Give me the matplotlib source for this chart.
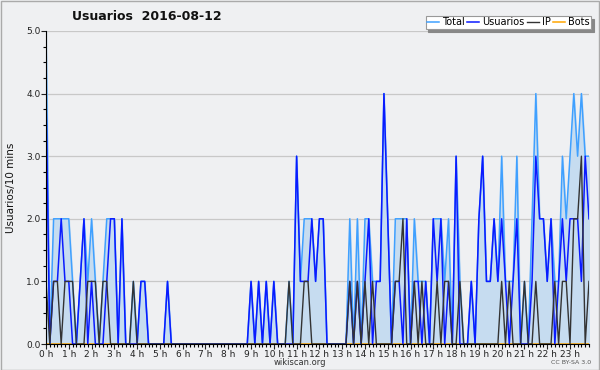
import matplotlib
matplotlib.use("Agg")
import matplotlib.pyplot as plt
from matplotlib.ticker import MultipleLocator, FixedLocator
import numpy as np

# 10-minute slots over the day (144 values)
usuarios = [4,0,1,1,2,1,1,0,0,1, 2,0,1,0,0,0,1,2,2,0, 2,0,0,0,0,1,1,0,0,0,
            0,0,1,0,0,0,0,0,0,0, 0,0,0,0,0,0,0,0,0,0, 0,0,0,0,1,0,1,0,1,0,
            1,0,0,0,0,0,3,1,1,1, 2,1,2,2,0,0,0,0,0,0, 1,0,1,0,1,2,0,1,1,4,
            2,0,1,1,0,2,0,1,1,0, 1,0,2,1,2,0,1,0,3,0, 0,0,1,0,2,3,1,1,2,1,
            2,1,0,1,2,0,0,0,1,3, 2,2,1,2,0,1,2,1,2,2, 2,1,3,2]
ip =       [1,0,1,1,0,1,1,1,0,0, 0,1,1,1,0,1,1,0,0,0, 0,0,0,1,0,0,0,0,0,0,
            0,0,0,0,0,0,0,0,0,0, 0,0,0,0,0,0,0,0,0,0, 0,0,0,0,0,0,0,0,0,0,
            0,0,0,0,1,0,0,0,1,1, 0,0,0,0,0,0,0,0,0,0, 1,0,1,0,1,0,1,0,0,0,
            0,0,1,1,2,0,0,1,0,1, 0,0,0,1,0,1,1,0,0,1, 0,0,0,0,0,0,0,0,0,0,
            1,0,1,0,0,0,1,0,0,1, 0,0,0,0,1,0,1,1,0,2, 2,3,0,1]
total =    [5,0,2,2,2,2,2,1,0,1, 2,1,2,1,0,1,2,2,2,0, 2,0,0,1,0,1,1,0,0,0,
            0,0,1,0,0,0,0,0,0,0, 0,0,0,0,0,0,0,0,0,0, 0,0,0,0,1,0,1,0,1,0,
            1,0,0,0,1,0,3,1,2,2, 2,1,2,2,0,0,0,0,0,0, 2,0,2,0,2,2,1,1,1,4,
            2,0,2,2,2,2,0,2,1,1, 1,0,2,2,2,1,2,0,3,1, 0,0,1,0,2,3,1,1,2,1,
            3,1,1,1,3,0,1,0,2,4, 2,2,1,2,1,1,3,2,3,4, 3,4,3,3]
bots = [0] * 144

hour_labels = [f"{h} h" for h in range(24)]
y_labels = ["0.0", "1.0", "2.0", "3.0", "4.0", "5.0"]

bg = "#eff0f2"
fig = plt.figure(figsize=(6.0, 3.7), dpi=100, facecolor=bg)
ax = fig.add_axes([46/600, 26/370, (589-46)/600, (344-31)/370])
ax.set_facecolor(bg)

x = np.arange(len(total)) / 6.0

ax.fill_between(x, total, 0, color="#c6dcf0", zorder=1)
ax.plot(x, bots, color="#ffa500", lw=1.1, zorder=2)
ax.plot(x, total, color="#3fa0ff", lw=1.1, zorder=3, label="Total")
ax.plot(x, usuarios, color="#0a1aff", lw=1.1, zorder=4, label="Usuarios")
ax.plot(x, ip, color="#333333", lw=1.0, zorder=5, label="IP")
ax.plot([], [], color="#ffa500", lw=1.1, label="Bots")

ax.set_xlim(0, 143/6)
ax.set_ylim(0, 5)

ax.yaxis.set_major_locator(FixedLocator(range(6)))
ax.set_yticklabels(y_labels)
ax.yaxis.set_minor_locator(MultipleLocator(0.25))
ax.xaxis.set_major_locator(FixedLocator(range(24)))
ax.set_xticklabels(hour_labels)
ax.xaxis.set_minor_locator(MultipleLocator(1/6))

ax.tick_params(axis="both", which="major", direction="out", length=3.5, width=0.8,
               labelsize=6.5, colors="#222222", pad=0.5)
ax.tick_params(axis="both", which="minor", direction="out", length=2.5, width=0.8)

ax.grid(axis="y", which="major", color="#c8c8c8", lw=0.9, zorder=0)
ax.set_axisbelow(True)
for s in ["top", "right"]:
    ax.spines[s].set_visible(False)
ax.spines["left"].set_color("#000000")
ax.spines["bottom"].set_color("#000000")
ax.spines["left"].set_zorder(6)
ax.spines["bottom"].set_zorder(6)

ax.set_ylabel("Usuarios/10 mins", fontsize=7.5, color="#111111", labelpad=7)

fig.text(0.245, 1 - 17/370, "Usuarios  2016-08-12", fontsize=9, fontweight="bold",
         ha="center", va="center", color="#111111")

leg = fig.legend(loc="upper right", bbox_to_anchor=(591/600, 1 - 16/370), ncol=4,
                 fontsize=7, frameon=True, fancybox=False, shadow={"color": "#888888", "alpha": 1},
                 edgecolor="#999999", handlelength=1.2, handletextpad=0.3,
                 columnspacing=0.3, borderpad=0.15, borderaxespad=0)
leg.get_frame().set_linewidth(0.8)
leg.get_frame().set_facecolor("white")

fig.text(300/600, 1 - 362.5/370, "wikiscan.org", fontsize=6, ha="center", va="center",
         color="#333333")
fig.text(571/600, 1 - 362.5/370, "CC BY-SA 3.0", fontsize=4.5, ha="center", va="center",
         color="#555555")

# outer border
fig.patches.append(plt.Rectangle((0.001, 0.001), 0.998, 0.997, transform=fig.transFigure,
                                 fill=False, edgecolor="#aaaaaa", lw=1))

fig.savefig("out.png", dpi=100, facecolor=bg)
